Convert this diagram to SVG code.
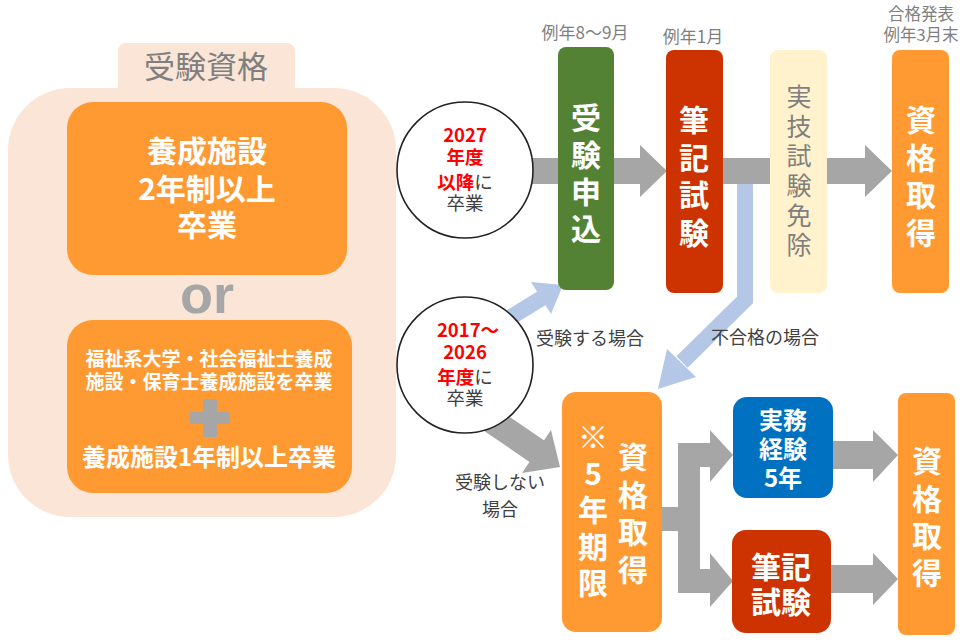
<svg xmlns="http://www.w3.org/2000/svg" width="973" height="640" viewBox="0 0 973 640">
<style>
text{font-family:"Noto Sans CJK JP","Noto Sans",sans-serif;}
.w{fill:#fff;font-weight:bold;text-anchor:middle;}
.g{fill:#7f7f7f;text-anchor:middle;}
.k{fill:#404040;text-anchor:middle;}
.r{fill:#ff0000;font-weight:bold;}
.v{writing-mode:vertical-rl;text-orientation:upright;}
.or{fill:#ff9a33;}
.arr{fill:#a6a6a6;}
.blue{fill:#b4c7e7;}
.circ{fill:#fff;stroke:#222;stroke-width:1.6;}
</style>
<rect width="973" height="640" fill="#fff"/>
<g id="qualification">
<rect x="8" y="88" width="388" height="429" rx="62" fill="#fbe5d6"/>
<rect x="118" y="43" width="177" height="55" rx="8" fill="#fbe5d6"/>
<text x="206" y="78" class="g" font-size="31">受験資格</text>
</g>
<g id="box-2year">
<rect class="or" x="67" y="102" width="280" height="173" rx="26"/>
<text class="w" font-size="30"><tspan x="207" y="162">養成施設</tspan><tspan x="207" y="200">2年制以上</tspan><tspan x="207" y="236">卒業</tspan></text>
</g>
<text id="or" x="207" y="313" font-size="54" font-weight="bold" fill="#a6a6a6" text-anchor="middle" style="font-family:'Liberation Sans',sans-serif">or</text>
<g id="box-1year">
<rect class="or" x="67" y="320" width="285" height="173" rx="26"/>
<text class="w" font-size="19"><tspan x="209" y="366">福祉系大学・社会福祉士養成</tspan><tspan x="209" y="389">施設・保育士養成施設を卒業</tspan></text>
<path d="M203,399 H217 V412 H230 V424 H217 V437 H203 V424 H190 V412 H203 Z" fill="#a6a6a6"/>
<text class="w" font-size="24" x="209" y="466">養成施設1年制以上卒業</text>
</g>
<g id="connectors">
<polygon class="arr" points="525,158 640,158 640,145 667,171 640,197 640,184 525,184"/>
<polygon class="arr" points="723,158 865,158 865,145 892,171 865,197 865,184 723,184"/>
<path d="M745,184 L745,300 L682,362" fill="none" stroke="#b4c7e7" stroke-width="16" stroke-linejoin="miter"/>
<polygon class="blue" points="696,377 658,389 667,349"/>
<path d="M498,325 L542,298" fill="none" stroke="#b4c7e7" stroke-width="16"/>
<polygon class="blue" points="551,314 563,285 531,282"/>
<path d="M478,411 L538,452" fill="none" stroke="#a6a6a6" stroke-width="26"/>
<polygon class="arr" points="522,473 560,467 551,430"/>
<path class="arr" d="M660,507 L678,507 L678,443 L710,443 L710,430 L733,455 L710,482 L710,467 L700,467 L700,569 L710,569 L710,553 L733,581 L710,607 L710,593 L678,593 L678,531 L660,531 Z"/>
<polygon class="arr" points="831,441 873,441 873,430 898,455 873,482 873,469 831,469"/>
<polygon class="arr" points="829,565 873,565 873,553 898,579 873,605 873,593 829,593"/>
</g>
<g id="circle-2027">
<circle class="circ" cx="465" cy="170" r="68"/>
<text font-size="18.5" text-anchor="middle"><tspan x="465" y="142" class="r">2027</tspan><tspan x="465" y="164" class="r">年度</tspan><tspan x="465" y="189"><tspan class="r">以降</tspan><tspan fill="#404040">に</tspan></tspan><tspan x="465" y="210" fill="#404040">卒業</tspan></text>
</g>
<g id="circle-2017">
<circle class="circ" cx="465" cy="365" r="68"/>
<text font-size="18.5" text-anchor="middle"><tspan x="468" y="337" class="r">2017～</tspan><tspan x="465" y="359" class="r">2026</tspan><tspan x="465" y="384"><tspan class="r">年度</tspan><tspan fill="#404040">に</tspan></tspan><tspan x="465" y="405" fill="#404040">卒業</tspan></text>
</g>
<g id="apply">
<text class="g" font-size="17" x="585" y="39">例年8～9月</text>
<rect x="558" y="47" width="56" height="243" rx="8" fill="#548235"/>
<text class="w v" font-size="30" letter-spacing="7" x="586" y="176.5">受験申込</text>
</g>
<g id="written-exam">
<text class="g" font-size="17" x="693" y="43">例年1月</text>
<rect x="666" y="50" width="57" height="243" rx="8" fill="#cc3300"/>
<text class="w v" font-size="30" letter-spacing="7.5" x="694" y="180">筆記試験</text>
</g>
<g id="practical-exempt">
<rect x="770" y="50" width="57" height="243" rx="8" fill="#fff2cc"/>
<text class="g v" font-size="25" letter-spacing="4.6" x="799" y="173">実技試験免除</text>
</g>
<g id="qualified-top">
<text class="g" font-size="16.5"><tspan x="921" y="19.5">合格発表</tspan><tspan x="921" y="41">例年3月末</tspan></text>
<rect class="or" x="892" y="50" width="57" height="243" rx="8"/>
<text class="w v" font-size="30" letter-spacing="7.5" x="921" y="180">資格取得</text>
</g>
<text class="k" font-size="18" x="590" y="345">受験する場合</text>
<text class="k" font-size="18" x="765" y="344">不合格の場合</text>
<text class="k" font-size="18"><tspan x="500" y="489">受験しない</tspan><tspan x="500" y="516">場合</tspan></text>
<g id="five-year">
<rect class="or" x="562" y="392" width="100" height="240" rx="14"/>
<text class="w v" font-size="30" letter-spacing="6.5" x="593" y="513">※5年期限</text>
<text class="w v" font-size="30" letter-spacing="7.7" x="633" y="517">資格取得</text>
</g>
<g id="work-experience">
<rect x="733" y="397" width="100" height="101" rx="14" fill="#0070c0"/>
<text class="w" font-size="24"><tspan x="783" y="429">実務</tspan><tspan x="783" y="458">経験</tspan><tspan x="783" y="487">5年</tspan></text>
</g>
<g id="written-exam-2">
<rect x="732" y="530" width="99" height="103" rx="14" fill="#cc3300"/>
<text class="w" font-size="30"><tspan x="781" y="578">筆記</tspan><tspan x="781" y="613">試験</tspan></text>
</g>
<g id="qualified-bottom">
<rect class="or" x="898" y="393" width="57" height="242" rx="8"/>
<text class="w v" font-size="30" letter-spacing="7.3" x="927" y="520.6">資格取得</text>
</g>
</svg>
